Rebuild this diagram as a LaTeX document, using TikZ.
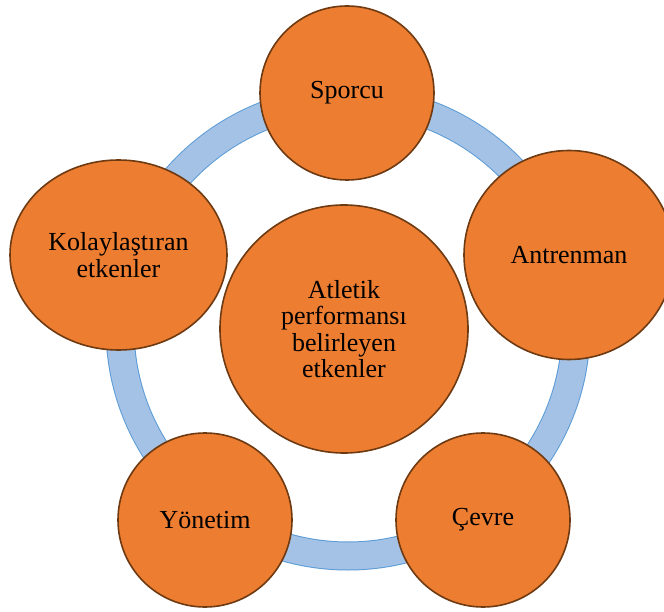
\documentclass[tikz,border=0pt]{standalone}
\usepackage{fontspec}
\setmainfont{Liberation Serif}
\usetikzlibrary{shapes.geometric}
\definecolor{orangefill}{HTML}{ED7D31}
\definecolor{brownedge}{HTML}{6E3A12}
\definecolor{ringfill}{HTML}{A4C2E6}
\definecolor{ringedge}{HTML}{5B9BD5}
\tikzset{
  blob/.style={ellipse, draw=brownedge, fill=orangefill, line width=1.6pt,
    inner sep=0pt, align=center, text=black,
    font=\fontsize{26}{26.5}\selectfont},
}
\begin{document}
\begin{tikzpicture}[x=1pt,y=-1pt]
\useasboundingbox (0,0) rectangle (664,612);
% ring
\coordinate (rc) at (348,328);
\draw[ringedge, line width=29pt] (rc) circle[radius=228];
\draw[ringfill, line width=27pt] (rc) circle[radius=228];
% outer nodes
\node[blob, minimum width=174pt, minimum height=174pt] (sporcu) at (347,93) {Sporcu};
\node[blob, minimum width=210pt, minimum height=209pt] (antren) at (569,255) {Antrenman};
\node[blob, minimum width=174pt, minimum height=174pt] (cevre) at (483,520) {Çevre};
\node[blob, minimum width=174pt, minimum height=174pt] (yonetim) at (205,520) {Yönetim};
\node[blob, minimum width=217pt, minimum height=190pt] (kolay) at (118.5,255) {Kolaylaştıran\\etkenler};
% center
\node[blob, minimum width=248pt, minimum height=248pt] (center) at (344,329) {Atletik\\performansı\\belirleyen\\etkenler};
\end{tikzpicture}
\end{document}
